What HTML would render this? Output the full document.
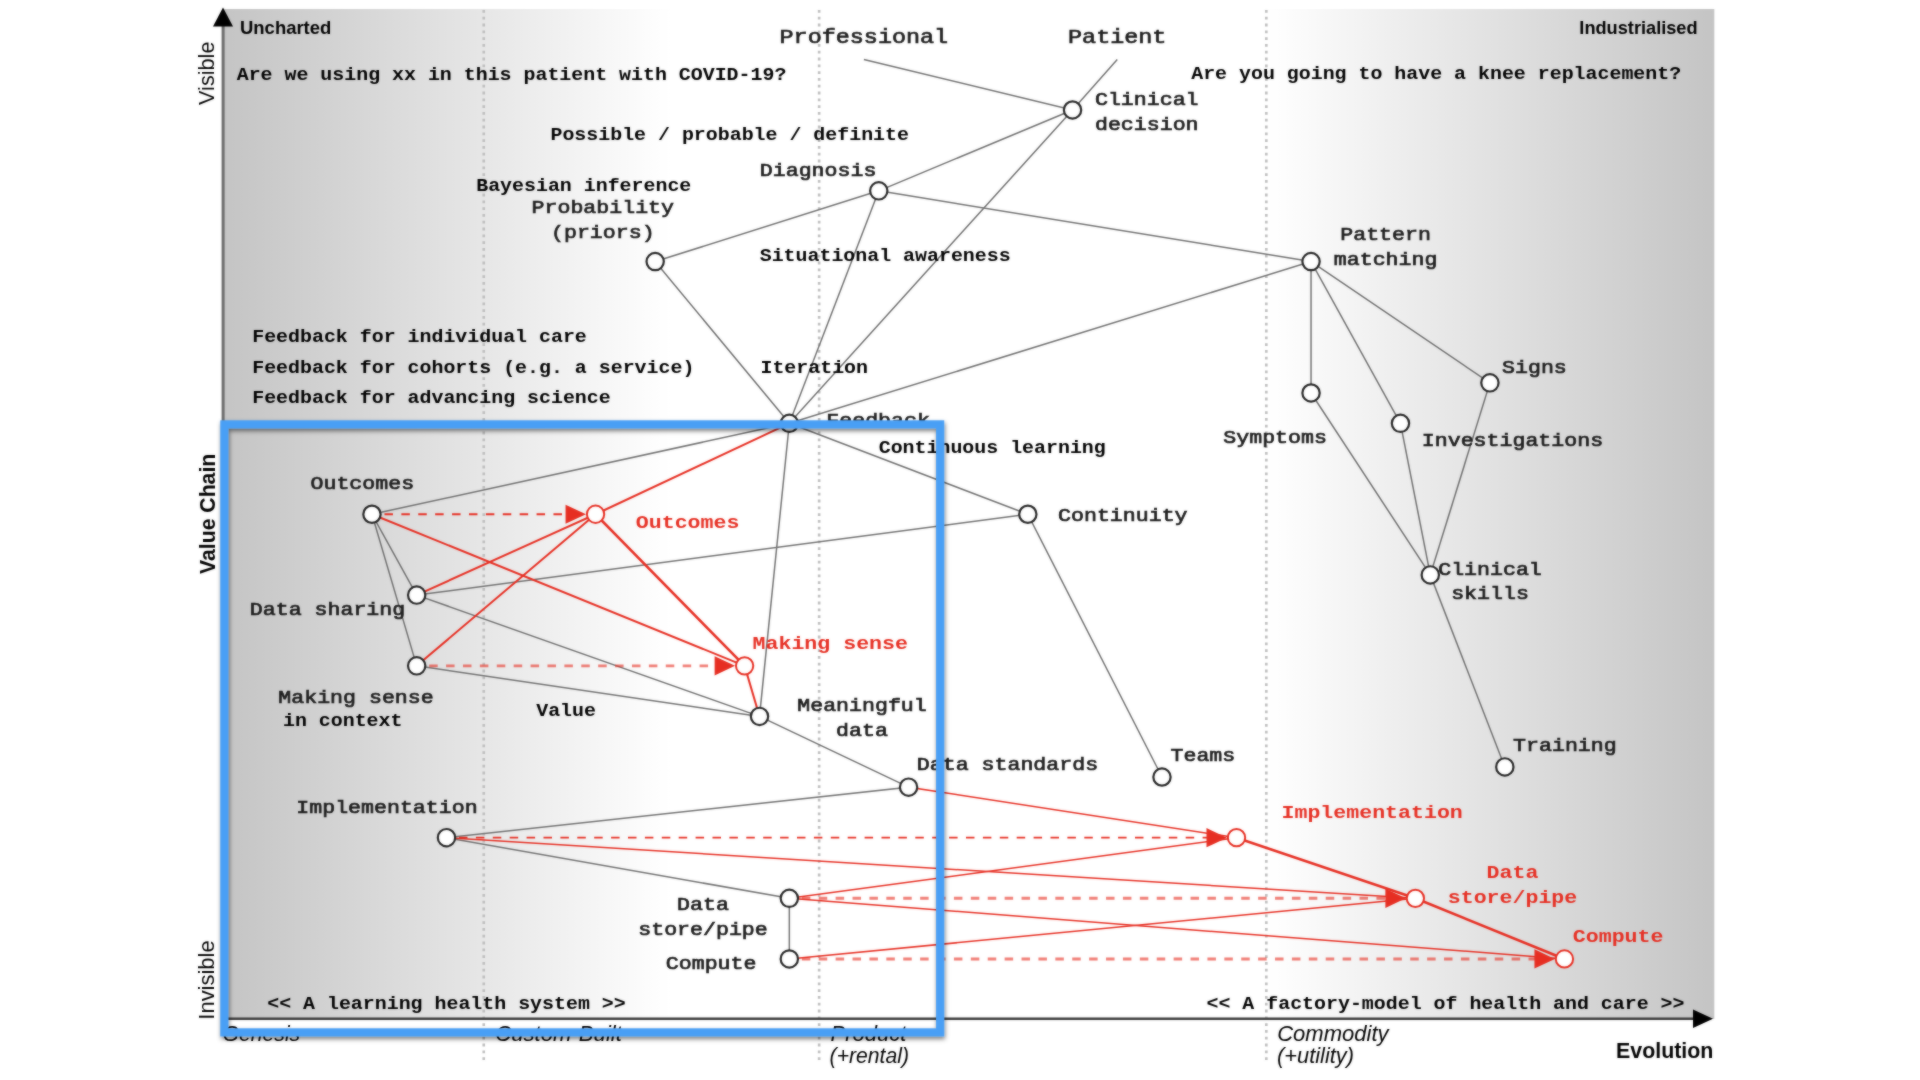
<!DOCTYPE html>
<html lang="en"><head><meta charset="utf-8"><title>Wardley map</title>
<style>
html,body{margin:0;padding:0;background:#fff;}
body{width:1920px;height:1080px;overflow:hidden;font-family:"Liberation Sans",sans-serif;}
svg{display:block;}
.m{font-family:"Liberation Mono",monospace;fill:#1c1c1c;stroke:#1c1c1c;stroke-width:0.7px;}
.mb{font-family:"Liberation Mono",monospace;font-weight:bold;fill:#000;}
.mr{font-family:"Liberation Mono",monospace;font-weight:bold;fill:#e62e22;}
.s{font-family:"Liberation Sans",sans-serif;fill:#000;}
</style></head><body>
<svg width="1920" height="1080" viewBox="0 0 1920 1080">
<defs>
<linearGradient id="bg" x1="0" y1="0" x2="1" y2="0">
<stop offset="0" stop-color="rgb(196,196,196)"/><stop offset="0.3" stop-color="#fff"/>
<stop offset="0.7" stop-color="#fff"/><stop offset="1" stop-color="rgb(196,196,196)"/>
</linearGradient>
<filter id="soft" x="0" y="0" width="1920" height="1080" filterUnits="userSpaceOnUse" color-interpolation-filters="sRGB"><feGaussianBlur in="SourceGraphic" stdDeviation="0.85" result="b"/><feComposite in="SourceGraphic" in2="b" operator="arithmetic" k1="0" k2="0.5" k3="0.5" k4="0"/></filter>
<filter id="sh" x="-5%" y="-5%" width="110%" height="110%">
<feDropShadow dx="0.8" dy="2.5" stdDeviation="2.2" flood-color="#000" flood-opacity="0.5"/>
</filter>
</defs>
<rect x="0" y="0" width="1920" height="1080" fill="#fff"/>
<g filter="url(#soft)">

<rect x="222.9" y="9.0" width="1491.4" height="1010.0" fill="url(#bg)"/>
<line x1="483.75" y1="10" x2="483.75" y2="1064" stroke="#bcbcbc" stroke-width="2.6" stroke-dasharray="2.8 4.0"/>
<line x1="819.14" y1="10" x2="819.14" y2="1064" stroke="#bcbcbc" stroke-width="2.6" stroke-dasharray="2.8 4.0"/>
<line x1="1266.32" y1="10" x2="1266.32" y2="1064" stroke="#bcbcbc" stroke-width="2.6" stroke-dasharray="2.8 4.0"/>
<line x1="223.1" y1="20" x2="223.1" y2="1020" stroke="#6c6c6c" stroke-width="3"/>
<polygon points="223,7.5 213,26.5 233,26.5" fill="#000"/>
<line x1="222" y1="1018.8" x2="1696" y2="1018.8" stroke="#3c3c3c" stroke-width="2.4"/>
<polygon points="1713,1018.8 1693,1009.6 1693,1028" fill="#000"/>
<text id="uncharted" class="s" font-size="18.6" font-weight="bold" textLength="91.30" lengthAdjust="spacingAndGlyphs" x="240.00" y="34.00">Uncharted</text>
<text id="industrialised" class="s" font-size="18.4" font-weight="bold" textLength="118.26" lengthAdjust="spacingAndGlyphs" x="1579.34" y="34.20">Industrialised</text>
<text id="visible" class="s" font-size="21.7" textLength="63.50" lengthAdjust="spacingAndGlyphs" transform="translate(214.20,105.00) rotate(-90)">Visible</text>
<text id="valuechain" class="s" font-size="21.4" font-weight="bold" textLength="120.26" lengthAdjust="spacingAndGlyphs" transform="translate(214.60,574.00) rotate(-90)">Value Chain</text>
<text id="invisible" class="s" font-size="21.7" textLength="79.40" lengthAdjust="spacingAndGlyphs" transform="translate(214.20,1019.70) rotate(-90)">Invisible</text>
<text id="genesis" class="s" font-size="22" font-style="italic" textLength="77.61" lengthAdjust="spacingAndGlyphs" x="222.60" y="1041.20">Genesis</text>
<text id="custom" class="s" font-size="22" font-style="italic" textLength="126.69" lengthAdjust="spacingAndGlyphs" x="495.20" y="1041.20">Custom-Built</text>
<text id="product" class="s" font-size="22" font-style="italic" textLength="75.80" lengthAdjust="spacingAndGlyphs" x="830.60" y="1041.20">Product</text>
<text id="rental" class="s" font-size="22" font-style="italic" textLength="79.45" lengthAdjust="spacingAndGlyphs" x="829.60" y="1063.00">(+rental)</text>
<text id="commodity" class="s" font-size="22" font-style="italic" textLength="111.45" lengthAdjust="spacingAndGlyphs" x="1277.20" y="1041.20">Commodity</text>
<text id="utility" class="s" font-size="22" font-style="italic" textLength="77.00" lengthAdjust="spacingAndGlyphs" x="1277.00" y="1063.00">(+utility)</text>
<text id="evolution" class="s" font-size="21.3" font-weight="bold" textLength="97.43" lengthAdjust="spacingAndGlyphs" x="1615.97" y="1057.80">Evolution</text>
<g stroke="#707070" stroke-width="1.5" fill="none">
<line x1="863.86" y1="59.44" x2="1072.54" y2="109.97"/>
<line x1="1117.26" y1="59.44" x2="1072.54" y2="109.97"/>
<line x1="1072.54" y1="109.97" x2="878.76" y2="190.83"/>
<line x1="1072.54" y1="109.97" x2="789.33" y2="423.29"/>
<line x1="878.76" y1="190.83" x2="655.17" y2="261.57"/>
<line x1="878.76" y1="190.83" x2="1311.04" y2="261.57"/>
<line x1="878.76" y1="190.83" x2="789.33" y2="423.29"/>
<line x1="655.17" y1="261.57" x2="789.33" y2="423.29"/>
<line x1="1311.04" y1="261.57" x2="789.33" y2="423.29"/>
<line x1="1311.04" y1="261.57" x2="1311.04" y2="392.97"/>
<line x1="1311.04" y1="261.57" x2="1400.47" y2="423.29"/>
<line x1="1311.04" y1="261.57" x2="1489.91" y2="382.86"/>
<line x1="1311.04" y1="392.97" x2="1430.29" y2="574.89"/>
<line x1="1400.47" y1="423.29" x2="1430.29" y2="574.89"/>
<line x1="1489.91" y1="382.86" x2="1430.29" y2="574.89"/>
<line x1="1430.29" y1="574.89" x2="1504.82" y2="766.92"/>
<line x1="789.33" y1="423.29" x2="371.96" y2="514.25"/>
<line x1="789.33" y1="423.29" x2="1027.82" y2="514.25"/>
<line x1="789.33" y1="423.29" x2="759.52" y2="716.39"/>
<line x1="1027.82" y1="514.25" x2="416.68" y2="595.11"/>
<line x1="1027.82" y1="514.25" x2="1161.98" y2="777.03"/>
<line x1="371.96" y1="514.25" x2="416.68" y2="595.11"/>
<line x1="371.96" y1="514.25" x2="416.68" y2="665.86"/>
<line x1="416.68" y1="595.11" x2="759.52" y2="716.39"/>
<line x1="416.68" y1="665.86" x2="759.52" y2="716.39"/>
<line x1="759.52" y1="716.39" x2="908.58" y2="787.14"/>
<line x1="908.58" y1="787.14" x2="446.49" y2="837.67"/>
<line x1="446.49" y1="837.67" x2="789.33" y2="898.32"/>
<line x1="789.33" y1="898.32" x2="789.33" y2="958.96"/>
</g>
<g stroke="#e62e22" fill="none">
<line x1="789.33" y1="423.29" x2="595.55" y2="514.25" stroke-width="2"/>
<line x1="595.55" y1="514.25" x2="416.68" y2="595.11" stroke-width="2"/>
<line x1="595.55" y1="514.25" x2="416.68" y2="665.86" stroke-width="2"/>
<line x1="371.96" y1="514.25" x2="744.61" y2="665.86" stroke-width="2"/>
<line x1="595.55" y1="514.25" x2="744.61" y2="665.86" stroke-width="2.6"/>
<line x1="744.61" y1="665.86" x2="759.52" y2="716.39" stroke-width="2"/>
<line x1="908.58" y1="787.14" x2="1236.51" y2="837.67" stroke-width="1.5"/>
<line x1="1236.51" y1="837.67" x2="1415.38" y2="898.32" stroke-width="2.6"/>
<line x1="1415.38" y1="898.32" x2="1564.44" y2="958.96" stroke-width="2.6"/>
<line x1="446.49" y1="837.67" x2="1415.38" y2="898.32" stroke-width="1.5"/>
<line x1="789.33" y1="898.32" x2="1236.51" y2="837.67" stroke-width="1.5"/>
<line x1="789.33" y1="898.32" x2="1564.44" y2="958.96" stroke-width="1.5"/>
<line x1="789.33" y1="958.96" x2="1415.38" y2="898.32" stroke-width="1.5"/>
</g>
<line x1="381.46" y1="514.25" x2="567.55" y2="514.25" stroke="#e62e22" stroke-width="2.0" stroke-opacity="1.0" stroke-dasharray="8.5 8.4" stroke-dashoffset="-3"/>
<polygon points="585.95,514.25 565.55,504.65 565.55,523.85" fill="#e62e22"/>
<line x1="426.18" y1="665.86" x2="716.61" y2="665.86" stroke="#e62e22" stroke-width="2.9" stroke-opacity="0.62" stroke-dasharray="8.5 8.4" stroke-dashoffset="-3"/>
<polygon points="735.01,665.86 714.61,656.26 714.61,675.46" fill="#e62e22"/>
<line x1="455.99" y1="837.67" x2="1208.51" y2="837.67" stroke="#e62e22" stroke-width="1.6" stroke-opacity="1.0" stroke-dasharray="8.5 8.4" stroke-dashoffset="-3"/>
<polygon points="1226.91,837.67 1206.51,828.07 1206.51,847.27" fill="#e62e22"/>
<line x1="798.83" y1="898.32" x2="1387.38" y2="898.32" stroke="#e62e22" stroke-width="2.9" stroke-opacity="0.62" stroke-dasharray="8.5 8.4" stroke-dashoffset="-3"/>
<polygon points="1405.78,898.32 1385.38,888.72 1385.38,907.92" fill="#e62e22"/>
<line x1="798.83" y1="958.96" x2="1536.44" y2="958.96" stroke="#e62e22" stroke-width="2.9" stroke-opacity="0.62" stroke-dasharray="8.5 8.4" stroke-dashoffset="-3"/>
<polygon points="1554.84,958.96 1534.44,949.36 1534.44,968.56" fill="#e62e22"/>
<text class="m" x="779.56" y="43.00" font-size="20.72" textLength="168.60" lengthAdjust="spacingAndGlyphs">Professional</text>
<text class="m" x="1068.09" y="43.00" font-size="20.72" textLength="98.35" lengthAdjust="spacingAndGlyphs">Patient</text>
<text class="m" x="1094.95" y="104.50" font-size="19.10" textLength="103.60" lengthAdjust="spacingAndGlyphs">Clinical</text>
<text class="m" x="1094.95" y="130.00" font-size="19.10" textLength="103.60" lengthAdjust="spacingAndGlyphs">decision</text>
<text class="m" x="759.80" y="175.50" font-size="19.10" textLength="116.55" lengthAdjust="spacingAndGlyphs">Diagnosis</text>
<text class="m" x="531.57" y="213.00" font-size="19.10" textLength="142.45" lengthAdjust="spacingAndGlyphs">Probability</text>
<text class="m" x="551.00" y="237.50" font-size="19.10" textLength="103.60" lengthAdjust="spacingAndGlyphs">(priors)</text>
<text class="m" x="1340.27" y="240.00" font-size="19.10" textLength="90.65" lengthAdjust="spacingAndGlyphs">Pattern</text>
<text class="m" x="1333.80" y="265.00" font-size="19.10" textLength="103.60" lengthAdjust="spacingAndGlyphs">matching</text>
<text class="m" x="826.30" y="426.00" font-size="19.10" textLength="103.60" lengthAdjust="spacingAndGlyphs">Feedback</text>
<text class="m" x="1223.30" y="443.00" font-size="19.10" textLength="103.60" lengthAdjust="spacingAndGlyphs">Symptoms</text>
<text class="m" x="1421.80" y="446.00" font-size="19.10" textLength="181.30" lengthAdjust="spacingAndGlyphs">Investigations</text>
<text class="m" x="1502.05" y="372.50" font-size="19.10" textLength="64.75" lengthAdjust="spacingAndGlyphs">Signs</text>
<text class="m" x="1438.20" y="574.50" font-size="19.10" textLength="103.60" lengthAdjust="spacingAndGlyphs">Clinical</text>
<text class="m" x="1451.15" y="599.00" font-size="19.10" textLength="77.70" lengthAdjust="spacingAndGlyphs">skills</text>
<text class="m" x="1058.05" y="521.25" font-size="19.10" textLength="129.50" lengthAdjust="spacingAndGlyphs">Continuity</text>
<text class="m" x="1170.50" y="760.70" font-size="19.10" textLength="64.75" lengthAdjust="spacingAndGlyphs">Teams</text>
<text class="m" x="1513.10" y="750.70" font-size="19.10" textLength="103.60" lengthAdjust="spacingAndGlyphs">Training</text>
<text class="m" x="310.50" y="489.20" font-size="19.10" textLength="103.60" lengthAdjust="spacingAndGlyphs">Outcomes</text>
<text class="m" x="249.80" y="615.00" font-size="19.10" textLength="155.40" lengthAdjust="spacingAndGlyphs">Data sharing</text>
<text class="m" x="278.30" y="702.50" font-size="19.10" textLength="155.40" lengthAdjust="spacingAndGlyphs">Making sense</text>
<text class="m" x="797.25" y="710.50" font-size="19.10" textLength="129.50" lengthAdjust="spacingAndGlyphs">Meaningful</text>
<text class="m" x="836.10" y="736.00" font-size="19.10" textLength="51.80" lengthAdjust="spacingAndGlyphs">data</text>
<text class="m" x="916.80" y="770.00" font-size="19.10" textLength="181.30" lengthAdjust="spacingAndGlyphs">Data standards</text>
<text class="m" x="296.30" y="812.50" font-size="19.10" textLength="181.30" lengthAdjust="spacingAndGlyphs">Implementation</text>
<text class="m" x="677.10" y="909.50" font-size="19.10" textLength="51.80" lengthAdjust="spacingAndGlyphs">Data</text>
<text class="m" x="638.25" y="935.00" font-size="19.10" textLength="129.50" lengthAdjust="spacingAndGlyphs">store/pipe</text>
<text class="m" x="665.80" y="968.75" font-size="19.10" textLength="90.65" lengthAdjust="spacingAndGlyphs">Compute</text>
<text class="mr" x="635.80" y="527.50" font-size="19.10" textLength="103.60" lengthAdjust="spacingAndGlyphs">Outcomes</text>
<text class="mr" x="752.55" y="648.75" font-size="19.10" textLength="155.40" lengthAdjust="spacingAndGlyphs">Making sense</text>
<text class="mr" x="1281.50" y="818.30" font-size="19.10" textLength="181.30" lengthAdjust="spacingAndGlyphs">Implementation</text>
<text class="mr" x="1486.60" y="878.30" font-size="19.10" textLength="51.80" lengthAdjust="spacingAndGlyphs">Data</text>
<text class="mr" x="1447.75" y="903.30" font-size="19.10" textLength="129.50" lengthAdjust="spacingAndGlyphs">store/pipe</text>
<text class="mr" x="1572.80" y="941.70" font-size="19.10" textLength="90.65" lengthAdjust="spacingAndGlyphs">Compute</text>
<text class="mb" x="236.70" y="79.50" font-size="17.63" textLength="549.70" lengthAdjust="spacingAndGlyphs">Are we using xx in this patient with COVID-19?</text>
<text class="mb" x="1191.20" y="79.20" font-size="17.63" textLength="489.95" lengthAdjust="spacingAndGlyphs">Are you going to have a knee replacement?</text>
<text class="mb" x="550.45" y="139.50" font-size="17.63" textLength="358.50" lengthAdjust="spacingAndGlyphs">Possible / probable / definite</text>
<text class="mb" x="476.20" y="190.50" font-size="17.63" textLength="215.10" lengthAdjust="spacingAndGlyphs">Bayesian inference</text>
<text class="mb" x="759.70" y="261.00" font-size="17.63" textLength="250.95" lengthAdjust="spacingAndGlyphs">Situational awareness</text>
<text class="mb" x="252.20" y="342.00" font-size="17.63" textLength="334.60" lengthAdjust="spacingAndGlyphs">Feedback for individual care</text>
<text class="mb" x="252.20" y="372.50" font-size="17.63" textLength="442.15" lengthAdjust="spacingAndGlyphs">Feedback for cohorts (e.g. a service)</text>
<text class="mb" x="252.20" y="403.00" font-size="17.63" textLength="358.50" lengthAdjust="spacingAndGlyphs">Feedback for advancing science</text>
<text class="mb" x="760.45" y="372.50" font-size="17.63" textLength="107.55" lengthAdjust="spacingAndGlyphs">Iteration</text>
<text class="mb" x="878.70" y="453.00" font-size="17.63" textLength="227.05" lengthAdjust="spacingAndGlyphs">Continuous learning</text>
<text class="mb" x="282.95" y="726.25" font-size="17.63" textLength="119.50" lengthAdjust="spacingAndGlyphs">in context</text>
<text class="mb" x="536.20" y="715.75" font-size="17.63" textLength="59.75" lengthAdjust="spacingAndGlyphs">Value</text>
<text class="mb" x="267.20" y="1009.00" font-size="17.63" textLength="358.50" lengthAdjust="spacingAndGlyphs">&lt;&lt; A learning health system &gt;&gt;</text>
<text class="mb" x="1206.50" y="1009.30" font-size="17.63" textLength="478.00" lengthAdjust="spacingAndGlyphs">&lt;&lt; A factory-model of health and care &gt;&gt;</text>
<g fill="#fff" stroke="#262626" stroke-width="2.2">
<circle cx="1072.54" cy="109.97" r="8.65"/>
<circle cx="878.76" cy="190.83" r="8.65"/>
<circle cx="655.17" cy="261.57" r="8.65"/>
<circle cx="1311.04" cy="261.57" r="8.65"/>
<circle cx="789.33" cy="423.29" r="8.65"/>
<circle cx="1311.04" cy="392.97" r="8.65"/>
<circle cx="1400.47" cy="423.29" r="8.65"/>
<circle cx="1489.91" cy="382.86" r="8.65"/>
<circle cx="1430.29" cy="574.89" r="8.65"/>
<circle cx="1027.82" cy="514.25" r="8.65"/>
<circle cx="1161.98" cy="777.03" r="8.65"/>
<circle cx="1504.82" cy="766.92" r="8.65"/>
<circle cx="371.96" cy="514.25" r="8.65"/>
<circle cx="416.68" cy="595.11" r="8.65"/>
<circle cx="416.68" cy="665.86" r="8.65"/>
<circle cx="759.52" cy="716.39" r="8.65"/>
<circle cx="908.58" cy="787.14" r="8.65"/>
<circle cx="446.49" cy="837.67" r="8.65"/>
<circle cx="789.33" cy="898.32" r="8.65"/>
<circle cx="789.33" cy="958.96" r="8.65"/>
</g>
<g fill="#fff" stroke="#e62e22" stroke-width="2">
<circle cx="595.55" cy="514.25" r="8.65"/>
<circle cx="744.61" cy="665.86" r="8.65"/>
<circle cx="1236.51" cy="837.67" r="8.65"/>
<circle cx="1415.38" cy="898.32" r="8.65"/>
<circle cx="1564.44" cy="958.96" r="8.65"/>
</g>
<rect x="224.35" y="424.4" width="715.8" height="608" fill="none" stroke="#4a9ff5" stroke-width="8.2" filter="url(#sh)"/>
</g>
</svg></body></html>
